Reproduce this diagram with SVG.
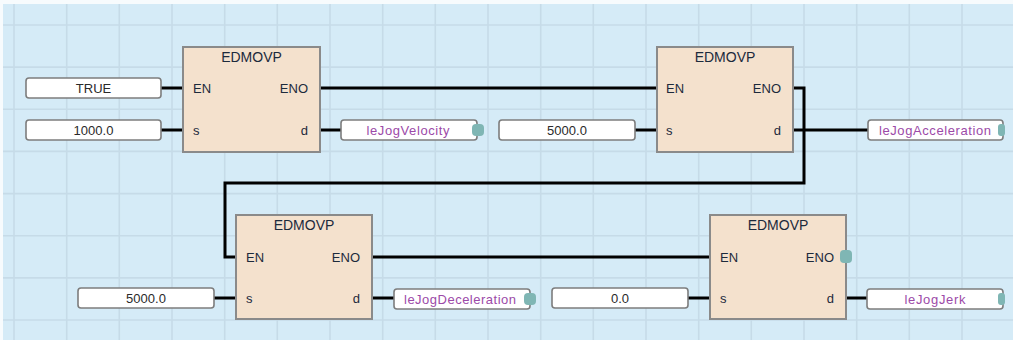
<svg xmlns="http://www.w3.org/2000/svg" width="1013" height="340" viewBox="0 0 1013 340">
<style>
.bg{fill:#d5ebf7}
.grid line{stroke:#c6dbe8;stroke-width:1.6}
.blk{fill:#f4e1cd;stroke:#8a8a8a;stroke-width:2}
.io{fill:#ffffff;stroke:#7d7d7d;stroke-width:1.6}
.dot{fill:#7fb6b4}
.w{fill:none;stroke:#000;stroke-width:3;stroke-linejoin:miter}
text{font-family:"Liberation Sans",Arial,sans-serif;font-size:13px}
.t{fill:#1c2a3c;text-anchor:middle;font-size:14px}
.p{fill:#1c2a3c}
.pr{fill:#1c2a3c;text-anchor:end}
.v{fill:#2a2a2a;text-anchor:middle}
.o{fill:#9c4aa8;text-anchor:middle}
</style>
<rect x="0" y="0" width="1013" height="340" fill="#f7fbfd"/>
<rect class="bg" x="3" y="4" width="1010" height="336"/>
<g class="grid">
<line x1="14" y1="4" x2="14" y2="340"/><line x1="66.7" y1="4" x2="66.7" y2="340"/><line x1="119.3" y1="4" x2="119.3" y2="340"/><line x1="172" y1="4" x2="172" y2="340"/><line x1="224.7" y1="4" x2="224.7" y2="340"/><line x1="277.3" y1="4" x2="277.3" y2="340"/><line x1="330" y1="4" x2="330" y2="340"/><line x1="382.7" y1="4" x2="382.7" y2="340"/><line x1="435.3" y1="4" x2="435.3" y2="340"/><line x1="488" y1="4" x2="488" y2="340"/><line x1="540.7" y1="4" x2="540.7" y2="340"/><line x1="593.3" y1="4" x2="593.3" y2="340"/><line x1="646" y1="4" x2="646" y2="340"/><line x1="698.7" y1="4" x2="698.7" y2="340"/><line x1="751.3" y1="4" x2="751.3" y2="340"/><line x1="804" y1="4" x2="804" y2="340"/><line x1="856.7" y1="4" x2="856.7" y2="340"/><line x1="909.3" y1="4" x2="909.3" y2="340"/><line x1="962" y1="4" x2="962" y2="340"/>
<line x1="3" y1="25" x2="1013" y2="25"/><line x1="3" y1="67.1" x2="1013" y2="67.1"/><line x1="3" y1="109.3" x2="1013" y2="109.3"/><line x1="3" y1="151.4" x2="1013" y2="151.4"/><line x1="3" y1="193.6" x2="1013" y2="193.6"/><line x1="3" y1="235.7" x2="1013" y2="235.7"/><line x1="3" y1="277.9" x2="1013" y2="277.9"/><line x1="3" y1="320" x2="1013" y2="320"/>
</g>
<g id="connectors">
<path class="w" d="M161 88H183"/>
<path class="w" d="M161 130H183"/>
<path class="w" d="M320 88H657"/>
<path class="w" d="M320 130H341"/>
<path class="w" d="M635 130H657"/>
<path class="w" d="M793 130H868"/>
<path class="w" d="M793 88H804V183H225V257H236"/>
<path class="w" d="M214 298H236"/>
<path class="w" d="M372 298H394"/>
<path class="w" d="M372 257H710"/>
<path class="w" d="M688 298H710"/>
<path class="w" d="M846 298H867"/>
</g>
<g id="in-true"><rect class="io" x="26" y="78" width="135" height="20" rx="3"/><text class="v" x="93.5" y="92.5">TRUE</text></g>
<g id="in-1000"><rect class="io" x="26" y="120" width="135" height="20" rx="3"/><text class="v" x="93.5" y="134.5">1000.0</text></g>
<g id="block1"><rect class="blk" x="183" y="47" width="137" height="105"/><text class="t" x="251.5" y="62">EDMOVP</text><text class="p" x="193" y="92.5">EN</text><text class="pr" x="308" y="92.5">ENO</text><text class="p" x="193" y="134.5">s</text><text class="pr" x="308" y="134.5">d</text></g>
<g id="out-velocity"><rect class="io" x="341" y="120" width="136" height="20" rx="3"/><rect class="dot" x="472" y="124" width="12" height="12" rx="4"/><text class="o" x="408" y="134.5" textLength="83">leJogVelocity</text></g>
<g id="in-5000a"><rect class="io" x="499" y="120" width="136" height="20" rx="3"/><text class="v" x="567" y="134.5">5000.0</text></g>
<g id="block2"><rect class="blk" x="657" y="47" width="136" height="105"/><text class="t" x="725" y="62">EDMOVP</text><text class="p" x="666" y="92.5">EN</text><text class="pr" x="781" y="92.5">ENO</text><text class="p" x="666" y="134.5">s</text><text class="pr" x="781" y="134.5">d</text></g>
<g id="out-acceleration"><rect class="io" x="868" y="120" width="135" height="20" rx="3"/><rect class="dot" x="998" y="124" width="7" height="12" rx="3"/><text class="o" x="935" y="134.5" textLength="112">leJogAcceleration</text></g>
<g id="in-5000b"><rect class="io" x="78" y="288" width="136" height="20" rx="3"/><text class="v" x="146" y="302.5">5000.0</text></g>
<g id="block3"><rect class="blk" x="236" y="215" width="136" height="104"/><text class="t" x="304" y="230">EDMOVP</text><text class="p" x="246" y="261.5">EN</text><text class="pr" x="360" y="261.5">ENO</text><text class="p" x="246" y="302.5">s</text><text class="pr" x="360" y="302.5">d</text></g>
<g id="out-deceleration"><rect class="io" x="394" y="289" width="136" height="20" rx="3"/><rect class="dot" x="524" y="293" width="12" height="12" rx="4"/><text class="o" x="460" y="303.5" textLength="112">leJogDeceleration</text></g>
<g id="in-0"><rect class="io" x="552" y="288" width="136" height="20" rx="3"/><text class="v" x="620" y="302.5">0.0</text></g>
<g id="block4"><rect class="blk" x="710" y="215" width="136" height="104"/><text class="t" x="778" y="230">EDMOVP</text><text class="p" x="720" y="261.5">EN</text><text class="pr" x="834" y="261.5">ENO</text><text class="p" x="720" y="302.5">s</text><text class="pr" x="834" y="302.5">d</text><rect class="dot" x="840" y="250" width="12" height="13" rx="4"/></g>
<g id="out-jerk"><rect class="io" x="867" y="289" width="136" height="20" rx="3"/><rect class="dot" x="998" y="293" width="7" height="12" rx="3"/><text class="o" x="935" y="303.5" textLength="61">leJogJerk</text></g>
</svg>
